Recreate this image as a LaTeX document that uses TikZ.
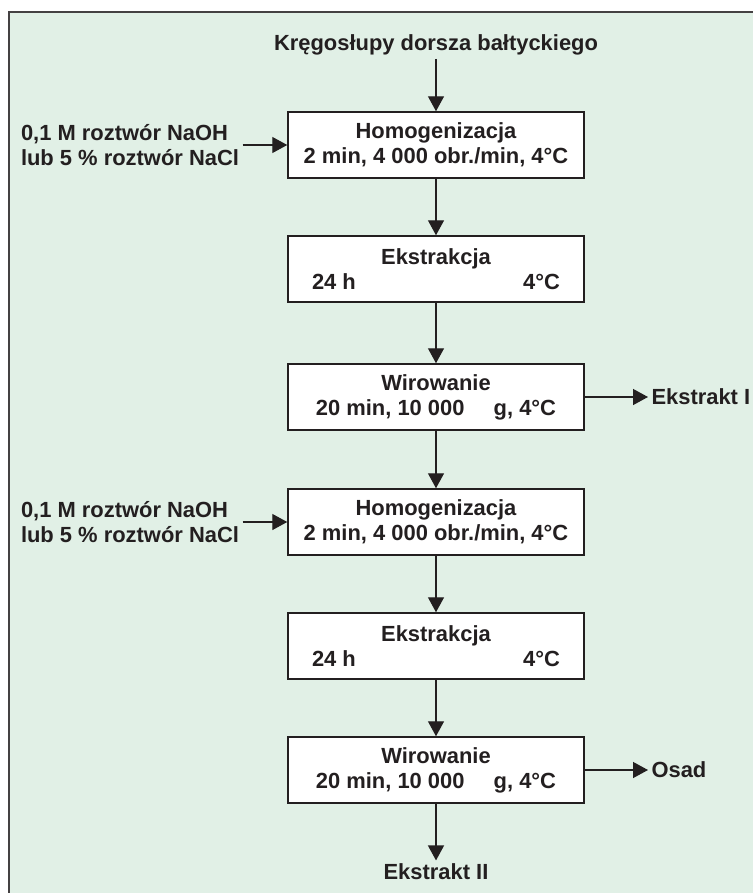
\documentclass[tikz,border=0pt]{standalone}
\usepackage{fontspec}
\setmainfont{Liberation Sans}
\usetikzlibrary{arrows.meta}
\definecolor{panelgreen}{HTML}{E1F0E6}
\definecolor{ink}{HTML}{231F20}

\begin{document}
\begin{tikzpicture}[x=1bp,y=-1bp,>={Triangle[length=15bp,width=16bp]},
    every node/.style={font=\bfseries\fontsize{22}{25.1}\selectfont,text=ink},
    stage/.style={draw=ink,line width=1.5bp,fill=white,minimum width=296bp,minimum height=66bp,align=center,inner sep=0pt},
    feed/.style={align=left},
    flow/.style={->,draw=ink,line width=1.4bp}]
  \useasboundingbox (0,0) rectangle (753,893);
  \fill[panelgreen] (9,12) rectangle (760,900);
  \draw[ink!85,line width=1.5bp] (9,900) -- (9,12) -- (760,12);

  \node (src) at (436,45) {Kręgosłupy dorsza bałtyckiego};
  \node[stage] (hom1) at (436,145) {Homogenizacja\\2 min, 4 000 obr./min, 4°C};
  \node[feed] (add1) at (130,145) {0,1 M roztwór NaOH\\lub 5 \% roztwór NaCl};
  \node[stage] (ext1) at (436,269) {Ekstrakcja\\\makebox[248bp]{24 h\hfill 4°C}};
  \node[stage] (wir1) at (436,397) {Wirowanie\\20 min, 10 000\hspace*{1.33em}g, 4°C};
  \node[anchor=west] (out1) at (648,397) {Ekstrakt I};
  \node[stage] (hom2) at (436,522) {Homogenizacja\\2 min, 4 000 obr./min, 4°C};
  \node[feed] (add2) at (130,522) {0,1 M roztwór NaOH\\lub 5 \% roztwór NaCl};
  \node[stage] (ext2) at (436,646) {Ekstrakcja\\\makebox[248bp]{24 h\hfill 4°C}};
  \node[stage] (wir2) at (436,770) {Wirowanie\\20 min, 10 000\hspace*{1.33em}g, 4°C};
  \node[anchor=west] (out2) at (648,770) {Osad};
  \node (out3) at (436,872) {Ekstrakt II};

  \draw[flow] (src) -- (hom1);
  \draw[flow] (add1) -- (hom1);
  \draw[flow] (hom1) -- (ext1);
  \draw[flow] (ext1) -- (wir1);
  \draw[flow] (wir1) -- (out1);
  \draw[flow] (wir1) -- (hom2);
  \draw[flow] (add2) -- (hom2);
  \draw[flow] (hom2) -- (ext2);
  \draw[flow] (ext2) -- (wir2);
  \draw[flow] (wir2) -- (out2);
  \draw[flow] (wir2) -- (out3);
\end{tikzpicture}
\end{document}
